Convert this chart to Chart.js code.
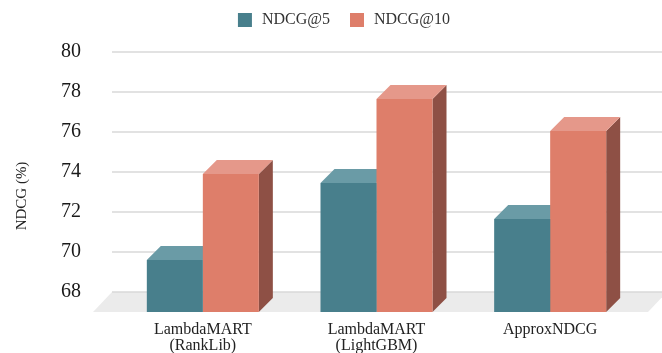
<!DOCTYPE html>
<html>
<head>
<meta charset="utf-8">
<script src="https://cdn.jsdelivr.net/npm/chart.js@4/dist/chart.umd.min.js"></script>
<style>
  html, body { margin: 0; padding: 0; background: #ffffff; }
  #wrap { width: 662px; height: 353px; position: relative; }
</style>
</head>
<body>
<div id="wrap"><canvas id="chart"></canvas></div>
<script>
// Ranking models compared
const categories = [['LambdaMART', '(RankLib)'], ['LambdaMART', '(LightGBM)'], 'ApproxNDCG'];
// NDCG scores in percent
const ndcgAt5 = [70.6, 74.45, 72.65];
const ndcgAt10 = [74.9, 78.65, 77.05];
// Value axis ticks shown on the back wall
const yTickValues = [68, 70, 72, 74, 76, 78, 80];
const seriesNames = ['NDCG@5', 'NDCG@10'];

const SERIF = "'Liberation Serif', 'Times New Roman', serif";
const DEPTH_X = 14, DEPTH_Y = 14;      // extrusion of each column
const FLOOR_SHIFT = 19;                 // horizontal offset between floor front and back edges

// Draws the back-wall gridlines, the floor, the top / side faces of the columns,
// the legend row and the value-axis title
const columns3d = {
  id: 'columns3d',
  beforeDatasetsDraw(chart) {
    const { ctx, chartArea, scales } = chart;
    const y = scales.y, yFront = scales.yFront;
    const floorValue = yTickValues[0];
    const backY = y.getPixelForValue(floorValue);
    const frontY = yFront.getPixelForValue(floorValue);
    ctx.save();
    // floor
    ctx.fillStyle = '#ebebeb';
    ctx.beginPath();
    ctx.moveTo(chartArea.left - 4 - FLOOR_SHIFT, frontY);
    ctx.lineTo(chartArea.right + 30 - FLOOR_SHIFT, frontY);
    ctx.lineTo(chartArea.right + 30, backY);
    ctx.lineTo(chartArea.left - 4, backY);
    ctx.closePath();
    ctx.fill();
    // back wall gridlines
    ctx.strokeStyle = '#d9d9d9';
    ctx.lineWidth = 1.5;
    y.ticks.forEach(t => {
      const py = y.getPixelForValue(t.value);
      ctx.beginPath();
      ctx.moveTo(chartArea.left - 4, py);
      ctx.lineTo(chart.width, py);
      ctx.stroke();
    });
    // top and side faces
    chart.data.datasets.forEach((ds, i) => {
      const meta = chart.getDatasetMeta(i);
      meta.data.forEach(el => {
        const p = el.getProps(['x', 'y', 'base', 'width'], true);
        const l = p.x - p.width / 2, r = p.x + p.width / 2;
        ctx.fillStyle = ds.sideColor;
        ctx.beginPath();
        ctx.moveTo(r, p.y);
        ctx.lineTo(r + DEPTH_X, p.y - DEPTH_Y);
        ctx.lineTo(r + DEPTH_X, p.base - DEPTH_Y);
        ctx.lineTo(r, p.base);
        ctx.closePath();
        ctx.fill();
        ctx.fillStyle = ds.topColor;
        ctx.beginPath();
        ctx.moveTo(l, p.y);
        ctx.lineTo(r, p.y);
        ctx.lineTo(r + DEPTH_X, p.y - DEPTH_Y);
        ctx.lineTo(l + DEPTH_X, p.y - DEPTH_Y);
        ctx.closePath();
        ctx.fill();
      });
    });
    ctx.restore();
  },
  afterDraw(chart) {
    const { ctx } = chart;
    ctx.save();
    // legend row, centred over the plot
    ctx.font = '16px ' + SERIF;
    ctx.textBaseline = 'middle';
    ctx.textAlign = 'left';
    const box = 14, boxGap = 10, itemGap = 20, rowY = 20;
    const items = chart.data.datasets.map(ds => ({
      text: ds.label, color: ds.backgroundColor, w: box + boxGap + ctx.measureText(ds.label).width
    }));
    const total = items.reduce((s, it) => s + it.w, 0) + itemGap * (items.length - 1);
    let x = 344 - total / 2;
    items.forEach(it => {
      ctx.fillStyle = it.color;
      ctx.fillRect(x, rowY - box / 2, box, box);
      ctx.fillStyle = '#333333';
      ctx.fillText(it.text, x + box + boxGap, rowY);
      x += it.w + itemGap;
    });
    // value-axis title
    ctx.translate(22, 196);
    ctx.rotate(-Math.PI / 2);
    ctx.font = '15px ' + SERIF;
    ctx.fillStyle = '#222222';
    ctx.textAlign = 'center';
    ctx.fillText('NDCG (%)', 0, 0);
    ctx.restore();
  }
};

new Chart(document.getElementById('chart'), {
  type: 'bar',
  data: {
    labels: categories,
    datasets: [
      {
        label: seriesNames[0],
        data: ndcgAt5,
        backgroundColor: '#487f8c',
        topColor: '#6a9ba6',
        sideColor: '#3a6771',
        yAxisID: 'yFront',
        base: 68,
        clip: false,
        borderWidth: 0
      },
      {
        label: seriesNames[1],
        data: ndcgAt10,
        backgroundColor: '#de7e6a',
        topColor: '#e5988a',
        sideColor: '#8e5045',
        yAxisID: 'yFront',
        base: 68,
        clip: false,
        borderWidth: 0
      }
    ]
  },
  options: {
    responsive: true,
    maintainAspectRatio: false,
    devicePixelRatio: 1,
    animation: false,
    layout: { padding: { left: 51, right: 25, top: 52, bottom: 0 } },
    datasets: { bar: { categoryPercentage: 0.645, barPercentage: 1.0 } },
    plugins: {
      tooltip: { enabled: false },
      legend: { display: false }
    },
    scales: {
      x: {
        type: 'category',
        offset: true,
        grid: { display: false, drawTicks: false },
        border: { display: false },
        ticks: {
          color: '#222222',
          padding: 29,
          maxRotation: 0,
          autoSkip: false,
          font: { family: SERIF, size: 16, lineHeight: 1.05 }
        },
        afterFit(s) { s.height = 61; }
      },
      y: {
        position: 'left',
        min: 68,
        max: 80,
        grid: { display: false, drawTicks: false },
        border: { display: false },
        ticks: {
          color: '#1a1a1a',
          padding: 35,
          font: { family: SERIF, size: 20 }
        },
        afterBuildTicks(s) { s.ticks = yTickValues.map(v => ({ value: v })); },
        afterFit(s) { s.width = 65; }
      },
      yFront: {
        position: 'left',
        display: false,
        min: 69,
        max: 81
      }
    }
  },
  plugins: [columns3d]
});
</script>
</body>
</html>
